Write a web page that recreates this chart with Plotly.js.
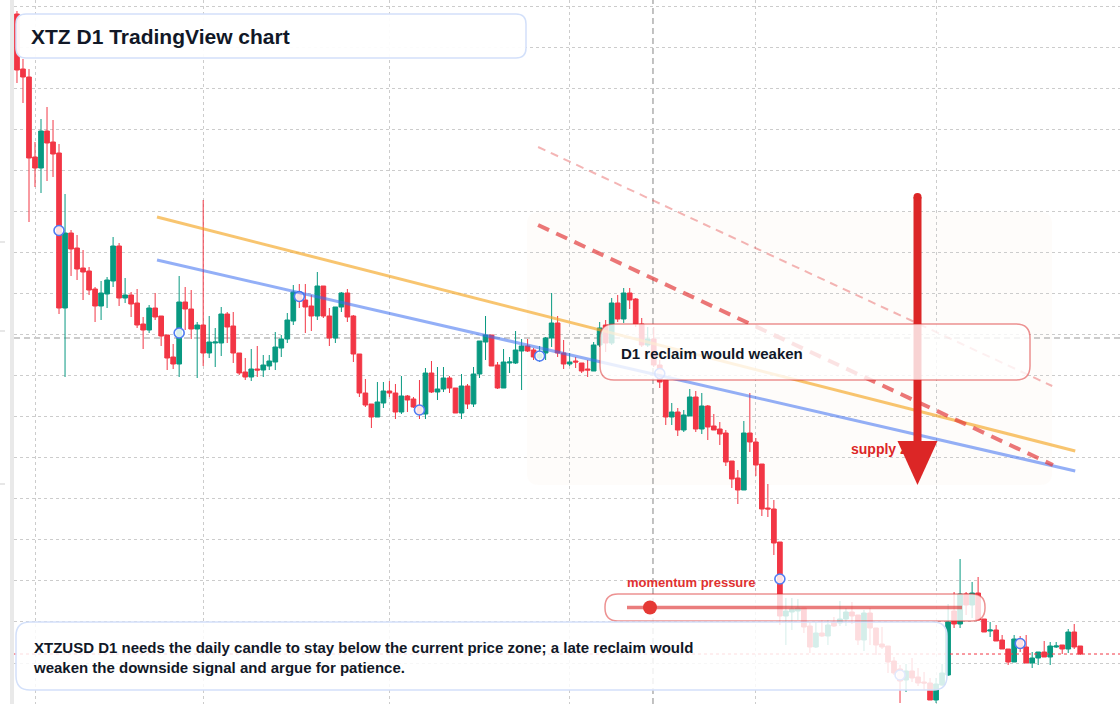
<!DOCTYPE html>
<html><head><meta charset="utf-8">
<script src="https://cdn.plot.ly/plotly-3.0.1.min.js"></script>
<style>html,body{margin:0;padding:0;background:#fff;overflow:hidden}#chart{width:1120px;height:704px}</style>
</head><body><div id="chart"></div>
<script>
// ---- data (XTZUSD daily) ----
const startDate = [2025, 0, 29]; // first candle: 2025-01-29
const open = [1.286,1.231,1.223,1.143,1.132,1.169,1.158,1.147,0.992,1.067,
 1.052,1.032,1.029,1.011,0.994,1.006,1.019,1.054,1.002,1.005,
 0.997,0.976,0.970,0.992,0.984,0.965,0.943,0.936,0.998,0.991,
 0.971,0.975,0.947,0.957,0.957,0.986,0.974,0.947,0.928,0.923,
 0.931,0.930,0.934,0.938,0.952,0.961,0.979,1.008,1.000,0.994,
 0.984,1.014,0.984,0.962,0.993,1.007,0.984,0.946,0.907,0.896,
 0.883,0.897,0.909,0.907,0.888,0.904,0.901,0.894,0.886,0.927,
 0.908,0.911,0.922,0.912,0.887,0.914,0.896,0.926,0.958,0.965,
 0.935,0.912,0.937,0.937,0.949,0.954,0.950,0.942,0.947,0.962,
 0.977,0.947,0.936,0.939,0.937,0.931,0.929,0.955,0.975,0.957,
 0.997,0.981,1.007,1.001,0.976,0.955,0.961,0.935,0.920,0.883,
 0.888,0.870,0.884,0.903,0.871,0.894,0.874,0.871,0.867,0.839,
 0.822,0.810,0.867,0.858,0.836,0.792,0.791,0.758,0.684,0.688,
 0.689,0.692,0.674,0.653,0.667,0.664,0.678,0.677,0.681,0.688,
 0.685,0.660,0.687,0.672,0.656,0.654,0.639,0.631,0.620,0.629,
 0.623,0.618,0.617,0.600,0.615,0.625,0.689,0.676,0.706,0.695,
 0.707,0.681,0.669,0.670,0.660,0.651,0.638,0.661,0.653,0.637,
 0.642,0.648,0.643,0.653,0.655,0.651,0.668,0.654];
const high = [1.289,1.241,1.231,1.158,1.181,1.193,1.180,1.156,1.106,1.070,
 1.065,1.050,1.033,1.013,1.019,1.023,1.063,1.057,1.022,1.008,
 1.011,0.983,0.995,1.007,0.984,0.965,0.956,1.024,1.013,1.010,
 0.978,1.100,0.984,0.972,0.993,0.988,0.988,0.947,0.942,0.951,
 0.954,0.945,0.945,0.968,0.965,0.987,1.015,1.016,1.016,1.005,
 1.028,1.014,0.992,0.993,1.008,1.011,0.985,0.946,0.921,0.896,
 0.918,0.918,0.919,0.916,0.924,0.905,0.903,0.920,0.932,0.939,
 0.933,0.933,0.924,0.912,0.926,0.916,0.933,0.959,0.984,0.965,
 0.938,0.951,0.943,0.969,0.961,0.961,0.952,0.954,0.963,1.007,
 0.984,0.960,0.947,0.943,0.937,0.940,0.958,0.978,0.980,1.002,
 1.005,1.012,1.012,1.002,0.982,0.973,0.973,0.940,0.920,0.897,
 0.892,0.890,0.911,0.909,0.907,0.895,0.886,0.878,0.870,0.839,
 0.830,0.879,0.907,0.862,0.836,0.816,0.800,0.758,0.702,0.702,
 0.701,0.692,0.678,0.678,0.680,0.680,0.683,0.699,0.692,0.698,
 0.685,0.690,0.692,0.672,0.673,0.654,0.643,0.635,0.636,0.642,
 0.632,0.628,0.622,0.622,0.636,0.696,0.708,0.741,0.708,0.718,
 0.723,0.681,0.678,0.675,0.665,0.651,0.665,0.664,0.665,0.648,
 0.648,0.659,0.658,0.658,0.655,0.671,0.676,0.654];
const low = [1.217,1.197,1.078,1.113,1.107,1.119,1.123,0.986,0.923,1.024,
 1.020,1.000,1.005,0.978,0.980,0.992,1.013,0.994,0.997,0.983,
 0.972,0.951,0.967,0.980,0.954,0.930,0.931,0.923,0.970,0.961,
 0.922,0.934,0.942,0.933,0.944,0.957,0.937,0.925,0.920,0.919,
 0.923,0.923,0.930,0.930,0.943,0.957,0.975,0.992,0.967,0.969,
 0.980,0.982,0.954,0.957,0.988,0.978,0.938,0.903,0.893,0.872,
 0.883,0.892,0.903,0.881,0.886,0.888,0.892,0.881,0.881,0.907,
 0.900,0.908,0.907,0.887,0.881,0.891,0.893,0.922,0.940,0.934,
 0.911,0.912,0.927,0.936,0.910,0.948,0.940,0.938,0.940,0.953,
 0.943,0.931,0.934,0.932,0.927,0.923,0.929,0.953,0.948,0.955,
 0.978,0.977,0.991,0.973,0.953,0.953,0.933,0.912,0.875,0.875,
 0.864,0.868,0.884,0.868,0.866,0.860,0.870,0.855,0.834,0.812,
 0.796,0.810,0.848,0.824,0.784,0.783,0.745,0.675,0.655,0.670,
 0.680,0.667,0.647,0.652,0.663,0.655,0.673,0.674,0.674,0.676,
 0.655,0.649,0.655,0.645,0.651,0.627,0.625,0.597,0.608,0.618,
 0.614,0.610,0.600,0.597,0.614,0.624,0.672,0.672,0.685,0.682,
 0.680,0.668,0.663,0.659,0.651,0.635,0.638,0.648,0.637,0.632,
 0.635,0.643,0.635,0.652,0.646,0.647,0.651,0.645];
const close = [1.230,1.223,1.142,1.132,1.169,1.157,1.146,0.992,1.067,1.051,
 1.031,1.028,1.010,0.994,1.007,1.020,1.054,1.002,1.005,0.996,
 0.975,0.970,0.992,0.983,0.964,0.942,0.936,0.998,0.991,0.971,
 0.975,0.947,0.958,0.958,0.986,0.973,0.947,0.927,0.923,0.931,
 0.930,0.935,0.939,0.953,0.961,0.980,1.008,0.999,0.993,0.984,
 1.014,0.984,0.962,0.993,1.007,0.983,0.946,0.907,0.895,0.883,
 0.898,0.909,0.907,0.888,0.904,0.900,0.893,0.886,0.927,0.908,
 0.911,0.922,0.912,0.887,0.914,0.896,0.926,0.959,0.965,0.934,
 0.912,0.938,0.938,0.950,0.954,0.949,0.943,0.946,0.962,0.977,
 0.947,0.936,0.938,0.938,0.929,0.930,0.955,0.972,0.957,0.997,
 0.981,1.007,1.000,0.976,0.955,0.961,0.935,0.918,0.883,0.888,
 0.870,0.885,0.903,0.871,0.894,0.873,0.870,0.866,0.838,0.821,
 0.810,0.867,0.858,0.835,0.791,0.791,0.757,0.684,0.689,0.691,
 0.692,0.673,0.653,0.667,0.664,0.675,0.674,0.681,0.688,0.684,
 0.660,0.687,0.672,0.655,0.653,0.638,0.627,0.619,0.629,0.622,
 0.617,0.617,0.600,0.616,0.627,0.678,0.676,0.706,0.695,0.707,
 0.680,0.668,0.670,0.659,0.651,0.638,0.661,0.652,0.637,0.642,
 0.648,0.643,0.654,0.654,0.651,0.668,0.653,0.646];
const markerIdx = [7, 27, 47, 67, 87, 107, 127, 147, 167];

// analysis drawings (date, price anchors)
const trendOrange = {x: ['2025-02-21 07:30', '2025-07-24 04:00'], y: [1.083, 0.849]};
const trendBlue   = {x: ['2025-02-21 07:30', '2025-07-24 04:00'], y: [1.040, 0.829]};
const trendRed    = {x: ['2025-04-25 18:00', '2025-07-20 11:00'], y: [1.075, 0.835]};
const trendPink   = {x: ['2025-04-25 18:00', '2025-07-20 08:00'], y: [1.153, 0.914]};
const crosshairPrice = 0.962;
const crosshairDate = '2025-05-14 21:00';

const titleText = 'XTZ D1 TradingView chart';
const boxText = 'D1 reclaim would weaken';
const pressureText = 'momentum pressure';
const supplyText = 'supply zone';
const noteText = 'XTZUSD D1 needs the daily candle to stay below the current price zone; a late reclaim would<br>weaken the downside signal and argue for patience.';

// ---- build ----
const dates = open.map((_, i) => new Date(Date.UTC(startDate[0], startDate[1], startDate[2] + i)).toISOString().slice(0, 10));

const W = 1120, H = 704, ML = 14;
const px = x => (x - ML) / (W - ML);
const py = y => 1 - y / H;
const f = v => v.toFixed(5);
function rr(x0, y0, x1, y1, r) {
  const P = (x, y) => f(px(x)) + ',' + f(py(y));
  return 'M' + P(x0 + r, y0) + ' L' + P(x1 - r, y0) + ' Q' + P(x1, y0) + ' ' + P(x1, y0 + r) +
    ' L' + P(x1, y1 - r) + ' Q' + P(x1, y1) + ' ' + P(x1 - r, y1) +
    ' L' + P(x0 + r, y1) + ' Q' + P(x0, y1) + ' ' + P(x0, y1 - r) +
    ' L' + P(x0, y0 + r) + ' Q' + P(x0, y0) + ' ' + P(x0 + r, y0) + ' Z';
}
const FONT = 'Liberation Sans, Arial, Helvetica, sans-serif';
const RED = '#dc2626';

const candles = {
  type: 'candlestick', x: dates, open: open, high: high, low: low, close: close,
  increasing: {line: {color: '#089981', width: 1}, fillcolor: '#089981'},
  decreasing: {line: {color: '#f23645', width: 1}, fillcolor: '#f23645'},
  whiskerwidth: 0, hoverinfo: 'skip', showlegend: false
};
const markers = {
  type: 'scatter', mode: 'markers',
  x: markerIdx.map(i => dates[i]),
  y: markerIdx.map(i => (open[i] + close[i]) / 2),
  marker: {symbol: 'circle', size: 10, color: 'rgba(255,255,255,0.85)', line: {color: '#4f7cf3', width: 1.6}},
  hoverinfo: 'skip', showlegend: false
};

const seg = (t, color, width, dash) => ({type: 'line', xref: 'x', yref: 'y', x0: t.x[0], x1: t.x[1], y0: t.y[0], y1: t.y[1],
  line: {color: color, width: width, dash: dash || 'solid'}, layer: 'above'});

const shapes = [
  // left pane strip
  {type: 'rect', xref: 'paper', yref: 'paper', x0: px(10), x1: px(14), y0: 0, y1: 1, fillcolor: '#e9e9e9', line: {width: 0}, layer: 'below'},
  {type: 'line', xref: 'paper', yref: 'paper', x0: px(0), x1: px(5), y0: py(242), y1: py(242), line: {color: '#cfcfcf', width: 1}, layer: 'below'},
  {type: 'line', xref: 'paper', yref: 'paper', x0: px(0), x1: px(5), y0: py(331), y1: py(331), line: {color: '#cfcfcf', width: 1}, layer: 'below'},
  {type: 'line', xref: 'paper', yref: 'paper', x0: px(0), x1: px(5), y0: py(484), y1: py(484), line: {color: '#cfcfcf', width: 1}, layer: 'below'},
  // faint zone
  {type: 'path', xref: 'paper', yref: 'paper', path: rr(527, 212, 1052, 485, 12), fillcolor: 'rgba(245,215,185,0.07)', line: {width: 0}, layer: 'below'},
  // crosshair
  {type: 'line', xref: 'x', yref: 'paper', x0: crosshairDate, x1: crosshairDate, y0: 0, y1: 1, line: {color: '#9a9a9a', width: 1.2, dash: '6px,4px'}, layer: 'below'},
  {type: 'line', xref: 'paper', yref: 'y', x0: 0, x1: 1, y0: crosshairPrice, y1: crosshairPrice, line: {color: '#9a9a9a', width: 1.2, dash: '6px,4px'}, layer: 'below'},
  // last price line
  {type: 'line', xref: 'paper', yref: 'y', x0: 0, x1: 1, y0: close[close.length - 1], y1: close[close.length - 1], line: {color: '#f23645', width: 1, dash: 'dot'}, layer: 'above'},
  // trend lines
  seg(trendOrange, 'rgba(245,166,35,0.65)', 3),
  seg(trendBlue, 'rgba(59,110,240,0.55)', 3),
  seg(trendPink, 'rgba(225,60,60,0.38)', 2, '8px,6px'),
  seg(trendRed, 'rgba(225,55,55,0.68)', 4, '12px,8px'),
  // arrow shaft
  {type: 'line', xref: 'paper', yref: 'paper', x0: px(917.5), x1: px(917.5), y0: py(197), y1: py(446), line: {color: RED, width: 8}, layer: 'above'},
  {type: 'circle', xref: 'paper', yref: 'paper', x0: px(913.5), x1: px(921.5), y0: py(193), y1: py(201), fillcolor: RED, line: {width: 0}, layer: 'above'},
  // supply zone label (under the arrowhead)
  {type: 'rect', xref: 'paper', yref: 'paper', x0: px(848), x1: px(940), y0: py(440), y1: py(456), fillcolor: 'rgba(0,0,0,0)', line: {width: 0}, layer: 'above',
   label: {text: supplyText, textposition: 'middle left', padding: 0, font: {family: FONT, size: 14, color: RED, weight: 'bold'}}},
  // arrowhead
  {type: 'path', xref: 'paper', yref: 'paper', path: 'M' + f(px(897.5)) + ',' + f(py(441)) + ' L' + f(px(937.5)) + ',' + f(py(441)) + ' L' + f(px(917.5)) + ',' + f(py(485)) + ' Z',
   fillcolor: RED, line: {width: 0}, layer: 'above'},
  // D1 reclaim box
  {type: 'path', xref: 'paper', yref: 'paper', path: rr(600, 324, 1030, 380, 14), fillcolor: 'rgba(255,255,255,0.80)', line: {color: 'rgba(220,38,38,0.5)', width: 1.5}, layer: 'above'},
  // momentum pill
  {type: 'path', xref: 'paper', yref: 'paper', path: rr(605, 594, 985, 621, 13), fillcolor: 'rgba(255,255,255,0.80)', line: {color: 'rgba(220,38,38,0.5)', width: 1.5}, layer: 'above'},
  {type: 'line', xref: 'paper', yref: 'paper', x0: px(627), x1: px(962), y0: py(607.5), y1: py(607.5), line: {color: 'rgba(220,38,38,0.6)', width: 3.5}, layer: 'above'},
  {type: 'circle', xref: 'paper', yref: 'paper', x0: px(643), x1: px(657), y0: py(600.5), y1: py(614.5), fillcolor: '#e53935', line: {width: 0}, layer: 'above'},
  // bottom note box
  {type: 'path', xref: 'paper', yref: 'paper', path: rr(16, 622, 947, 690, 14), fillcolor: 'rgba(255,255,255,0.83)', line: {color: '#d3e0fa', width: 1.5}, layer: 'above'},
  // title box
  {type: 'path', xref: 'paper', yref: 'paper', path: rr(16, 14, 526, 58, 10), fillcolor: 'rgba(255,255,255,0.94)', line: {color: '#d3e0fa', width: 1.5}, layer: 'above'}
];

const annotations = [
  {xref: 'paper', yref: 'paper', x: px(29), y: py(36), xanchor: 'left', yanchor: 'middle', showarrow: false,
   text: '<b>' + titleText + '</b>', font: {family: FONT, size: 21, color: '#111827'}},
  {xref: 'paper', yref: 'paper', x: px(619), y: py(353), xanchor: 'left', yanchor: 'middle', showarrow: false,
   text: '<b>' + boxText + '</b>', font: {family: FONT, size: 15, color: '#111827'}},
  {xref: 'paper', yref: 'paper', x: px(625), y: py(582), xanchor: 'left', yanchor: 'middle', showarrow: false,
   text: '<b>' + pressureText + '</b>', font: {family: FONT, size: 13, color: '#e03131'}},
  {xref: 'paper', yref: 'paper', x: px(31), y: py(657), xanchor: 'left', yanchor: 'middle', align: 'left', showarrow: false,
   text: '<b>' + noteText.replace('<br>', '</b><br><b>') + '</b>', font: {family: FONT, size: 15, color: '#111827'}}
];

const layout = {
  width: W, height: H, margin: {l: ML, r: 0, t: 0, b: 0, pad: 0},
  paper_bgcolor: '#ffffff', plot_bgcolor: '#ffffff', showlegend: false, boxgap: 0.22, boxgroupgap: 0,
  xaxis: {type: 'date', range: ['2025-01-28 12:05', '2025-07-31 14:53'], rangeslider: {visible: false},
    showticklabels: false, ticks: '', showline: false, zeroline: false,
    showgrid: true, gridcolor: '#cccccc', griddash: 'dot', gridwidth: 1, dtick: 'M1', tick0: '2025-02-01'},
  yaxis: {range: [0.596, 1.300], showticklabels: false, ticks: '', showline: false, zeroline: false,
    showgrid: true, gridcolor: '#cccccc', griddash: 'dot', gridwidth: 1, tick0: 0.637, dtick: 0.04105},
  shapes: shapes, annotations: annotations
};

Plotly.newPlot('chart', [candles, markers], layout, {displayModeBar: false, staticPlot: true});
</script></body></html>
